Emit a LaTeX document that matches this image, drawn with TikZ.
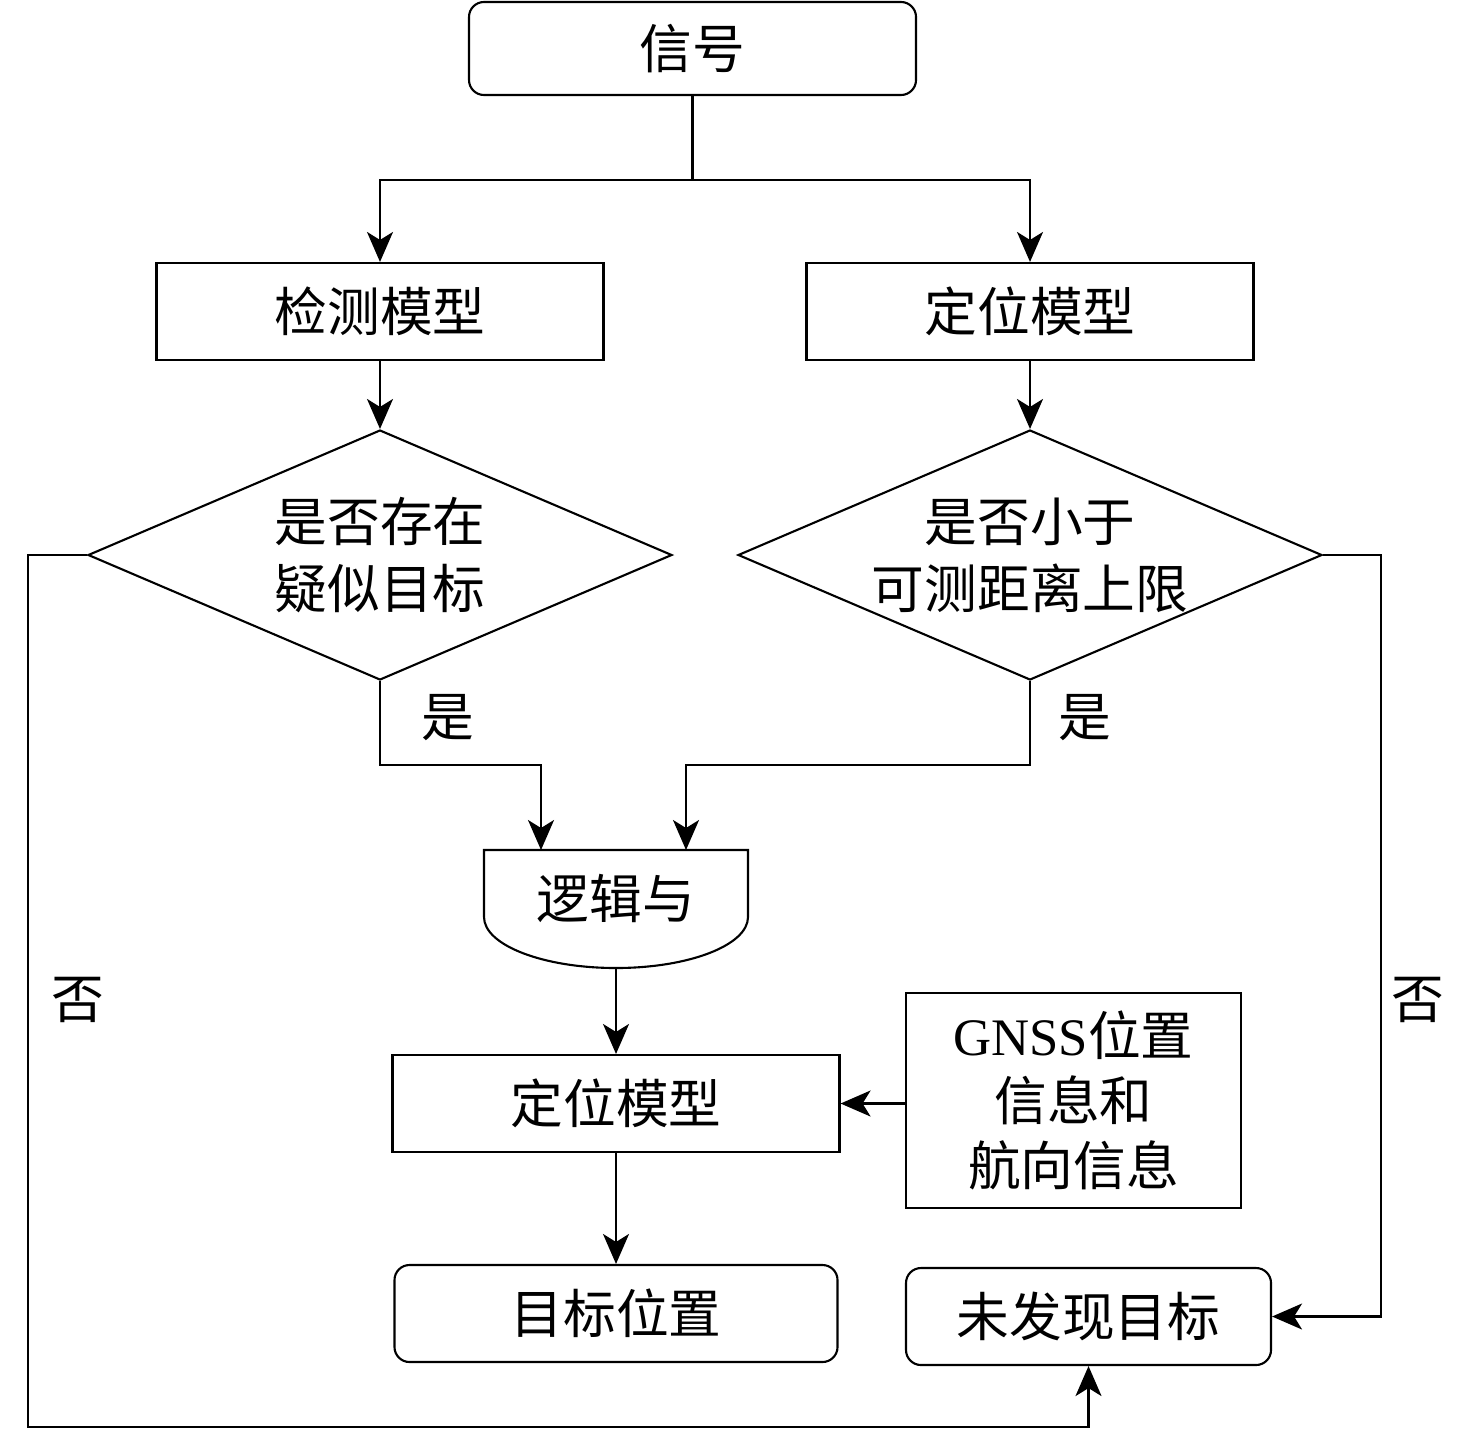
\documentclass[tikz,border=0pt]{standalone}
\usepackage{fontspec}
\setmainfont{Liberation Serif}
\newfontfamily\cjk{Noto Sans CJK SC}
\usetikzlibrary{shapes.geometric, arrows.meta, positioning, calc}

\begin{document}
\begin{tikzpicture}[%
    >={Stealth[length=3mm,width=2.6mm,inset=0.8mm]},
    every node/.style={%
      font=\cjk\fontsize{15}{19}\selectfont,
      text centered,
      align=center
    },
    line/.style={draw=black, line width=0.6pt},
    startstop/.style={draw=black, line width=0.6pt, rounded corners=0.15cm,
      inner sep=0pt, minimum height=0.97cm},
    process/.style={draw=black, line width=0.6pt, inner sep=0pt,
      minimum width=4.47cm, minimum height=0.97cm},
    decision/.style={diamond, draw=black, line width=0.6pt, inner sep=0pt,
      minimum width=5.84cm, minimum height=2.5cm}
  ]
  \useasboundingbox (0,0) rectangle (14.76,-14.29);

  % top row
  \node[startstop, minimum width=4.47cm, minimum height=0.93cm] (sig) at (6.925,-0.485) {信号};
  \node[process] (det) at (3.80,-3.115) {检测模型};
  \node[process] (loc1) at (10.30,-3.115) {定位模型};
  \coordinate (split) at (6.925,-1.80);
  \draw[line] (sig.south) -- (split);
  \draw[line,->] (split) -| (det.north);
  \draw[line,->] (split) -| (loc1.north);

  % decisions
  \node[decision] (d1) at (3.80,-5.55) {};
  \node (d1t) at (d1) {是否存在\\疑似目标};
  \node[decision] (d2) at (10.30,-5.55) {};
  \node (d2t) at (d2) {是否小于\\可测距离上限};
  \draw[line,->] (det.south) -- (d1.north);
  \draw[line,->] (loc1.south) -- (d2.north);

  % logic and
  \coordinate (andin1) at (5.41,-8.50);
  \coordinate (andin2) at (6.86,-8.50);
  \coordinate (andout) at (6.16,-9.68);
  \draw[line] (4.84,-8.50) -- (7.48,-8.50) -- (7.48,-9.17)
    arc[start angle=0, end angle=-180, x radius=1.32cm, y radius=0.51cm] -- cycle;
  \node (and) at (6.16,-8.98) {逻辑与};
  \draw[line,->] (d1.south) -- ++(0,-0.84) -| (andin1);
  \draw[line,->] (d2.south) -- ++(0,-0.84) -| (andin2);
  \node (yes1) at (4.48,-7.18) {是};
  \node (yes2) at (10.85,-7.18) {是};

  % positioning
  \node[process] (loc2) at (6.16,-11.035) {定位模型};
  \node[draw=black, line width=0.6pt, inner sep=0pt, minimum width=3.35cm,
    minimum height=2.15cm, font=\fontsize{15}{18.5}\selectfont] (gnss) at (10.735,-11.005)
    {GNSS{\cjk 位置}\\{\cjk 信息和}\\{\cjk 航向信息}};
  \draw[line,->] (andout) -- (loc2.north);
  \draw[line,->] (gnss.west |- loc2) -- (loc2.east);

  % results
  \node[startstop, minimum width=4.43cm] (tgt) at (6.16,-13.135) {目标位置};
  \node[startstop, minimum width=3.65cm] (nf) at (10.885,-13.165) {未发现目标};
  \draw[line,->] (loc2.south) -- (tgt.north);

  % no branches
  \draw[line,->] (d1.west) -| (0.28,-14.27) -| (nf.south);
  \draw[line,->] (d2.east) -- ++(0.58,0) |- (nf.east);
  \node (no1) at (0.78,-10.0) {否};
  \node (no2) at (14.18,-10.0) {否};

\end{tikzpicture}
\end{document}
